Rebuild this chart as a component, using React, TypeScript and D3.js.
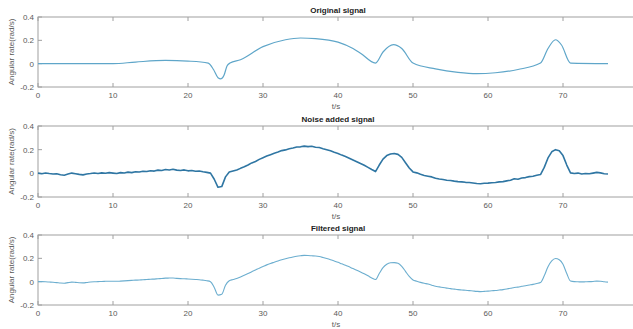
import React from 'react';
import * as d3 from 'd3';

// --- DATA ---
const xTicks = [0, 10, 20, 30, 40, 50, 60, 70, 80];
const yTicks = [-0.2, 0, 0.2, 0.4];
const panelTitles = ['Original signal', 'Noise added signal', 'Filtered signal'];

// original signal, knot points [t, rad/s]
const originalT = [0, 10, 13, 17, 20, 22.7, 23.4, 24, 24.4, 24.8, 25.2, 25.6, 27, 30, 33, 35, 37, 40, 42, 43, 45, 46, 47.4, 48.5, 50, 53, 56, 58.5, 61, 64, 67, 68, 69, 69.8, 71, 76];
const originalY = [0, 0, 0.014, 0.028, 0.022, 0.005, -0.05, -0.12, -0.13, -0.1, -0.02, 0.005, 0.034, 0.146, 0.205, 0.22, 0.215, 0.185, 0.13, 0.09, 0.005, 0.1, 0.163, 0.13, 0.005, -0.045, -0.075, -0.086, -0.078, -0.05, 0.005, 0.13, 0.205, 0.16, 0.005, 0];

// noisy and filtered signals, sampled every 0.5 s from t = 0 to t = 76
const sampleStep = 0.5;
const noisyY = [
  0.002, -0.004, 0.003, -0.002, -0.006, -0.003, -0.012, -0.016, -0.006, 0.002,
  -0.003, -0.009, -0.013, -0.006, -0.002, 0.003, -0.002, 0.004, 0.001, 0.006,
  0.002, -0.002, 0.006, 0.003, 0.01, 0.006, 0.014, 0.011, 0.018, 0.015,
  0.022, 0.019, 0.027, 0.024, 0.032, 0.028, 0.035, 0.027, 0.024, 0.029,
  0.021, 0.024, 0.017, 0.02, 0.013, 0.008, 0.002, -0.05, -0.118, -0.112,
  -0.03, 0.012, 0.02, 0.028, 0.042, 0.055, 0.07, 0.088, 0.1, 0.118,
  0.132, 0.146, 0.158, 0.17, 0.18, 0.192, 0.198, 0.208, 0.214, 0.222,
  0.224, 0.23, 0.226, 0.229, 0.22, 0.218, 0.208, 0.2, 0.19, 0.178,
  0.168, 0.154, 0.142, 0.128, 0.113, 0.098, 0.083, 0.068, 0.05, 0.032,
  0.015, 0.07, 0.12, 0.15, 0.163, 0.168, 0.16, 0.135, 0.09, 0.045,
  0.012, 0.004, -0.008, -0.018, -0.024, -0.03, -0.042, -0.048, -0.052, -0.058,
  -0.06, -0.066, -0.07, -0.072, -0.076, -0.078, -0.082, -0.086, -0.088, -0.084,
  -0.083, -0.079, -0.078, -0.072, -0.07, -0.064, -0.058, -0.046, -0.05, -0.04,
  -0.036, -0.028, -0.024, -0.016, -0.01, 0.05, 0.13, 0.182, 0.2, 0.19,
  0.15, 0.07, 0.004, -0.002, 0.002, -0.006, -0.001, -0.004, 0.002, 0.008,
  0.004, -0.003, -0.006,
];
const filteredY = [
  0.0, 0.0, -0.001, -0.003, -0.005, -0.008, -0.012, -0.013, -0.008, -0.004,
  -0.006, -0.009, -0.01, -0.007, -0.003, -0.001, 0.0, 0.002, 0.003, 0.004,
  0.003, 0.003, 0.005, 0.007, 0.009, 0.011, 0.013, 0.014, 0.017, 0.018,
  0.021, 0.022, 0.025, 0.027, 0.03, 0.031, 0.032, 0.028, 0.026, 0.025,
  0.023, 0.021, 0.019, 0.017, 0.013, 0.008, 0.0, -0.05, -0.115, -0.108,
  -0.03, 0.008, 0.018, 0.028, 0.04, 0.054, 0.069, 0.086, 0.1, 0.116,
  0.13, 0.144, 0.156, 0.167, 0.178, 0.188, 0.197, 0.205, 0.212, 0.218,
  0.222, 0.225, 0.224, 0.222, 0.22, 0.215, 0.207, 0.198, 0.188, 0.177,
  0.166, 0.153, 0.141, 0.127, 0.113, 0.098, 0.083, 0.067, 0.05, 0.032,
  0.018, 0.07, 0.12, 0.15, 0.162, 0.163, 0.158, 0.132, 0.088, 0.045,
  0.015, 0.004, -0.006, -0.014, -0.02, -0.03, -0.04, -0.045, -0.05, -0.055,
  -0.06, -0.064, -0.068, -0.071, -0.074, -0.077, -0.08, -0.083, -0.085, -0.083,
  -0.081, -0.078, -0.076, -0.072, -0.068, -0.063, -0.057, -0.05, -0.047, -0.04,
  -0.035, -0.029, -0.023, -0.016, -0.008, 0.05, 0.128, 0.178, 0.198, 0.188,
  0.15, 0.07, 0.005, 0.0, -0.001, -0.002, -0.001, 0.0, 0.002, 0.005,
  0.003, -0.001, -0.004,
];

const W = 633;
const H = 329;
const FONT = '"Liberation Sans", Arial, sans-serif';
const AXIS = '#a0a0a0';
const LABEL = '#5a5a5a';

// plot-box vertical extents for the three panels
const panels = [
  { top: 17, bottom: 87 },
  { top: 126, bottom: 197 },
  { top: 235, bottom: 305 },
];
const lineColors = ['#5fa6c9', '#2f76a3', '#6caecf'];
const lineWidths = [1.2, 1.6, 1.1];

const x = d3.scaleLinear().domain([0, 80]).range([38, 638]);

type Pt = [number, number];

const Panel: React.FC<{ idx: number; pts: Pt[]; curve: d3.CurveFactory }> = ({ idx, pts, curve }) => {
  const { top, bottom } = panels[idx];
  const y = d3.scaleLinear().domain([-0.2, 0.4]).range([bottom, top]);
  const line = d3.line<Pt>().x(d => x(d[0])).y(d => y(d[1])).curve(curve);
  const x0 = x.range()[0];
  const x1 = x.range()[1];
  const midY = (top + bottom) / 2;
  return (
    <g>
      <text x={(x0 + x1) / 2} y={top - 4} textAnchor="middle" fontSize={8} fontWeight="bold" fill="#222" fontFamily={FONT}>
        {panelTitles[idx]}
      </text>
      {/* box */}
      <rect x={x0} y={top} width={x1 - x0} height={bottom - top} fill="white" stroke={AXIS} strokeWidth={1} />
      {/* x ticks (inward, top and bottom) */}
      {xTicks.map(t => (
        <g key={'x' + t}>
          <line x1={x(t)} x2={x(t)} y1={bottom} y2={bottom - 4} stroke={AXIS} />
          <line x1={x(t)} x2={x(t)} y1={top} y2={top + 4} stroke={AXIS} />
          <text x={x(t)} y={bottom + 11} textAnchor="middle" fontSize={8} fill={LABEL} fontFamily={FONT}>
            {t}
          </text>
        </g>
      ))}
      {/* y ticks (inward, left and right) */}
      {yTicks.map(v => (
        <g key={'y' + v}>
          <line x1={x0} x2={x0 + 4} y1={y(v)} y2={y(v)} stroke={AXIS} />
          <line x1={x1} x2={x1 - 4} y1={y(v)} y2={y(v)} stroke={AXIS} />
          <text x={x0 - 4} y={y(v) + 3} textAnchor="end" fontSize={8} fill={LABEL} fontFamily={FONT}>
            {v === 0 ? '0' : v.toFixed(1)}
          </text>
        </g>
      ))}
      <text x={(x0 + x1) / 2 - 2} y={bottom + 22} textAnchor="middle" fontSize={8} fill={LABEL} fontFamily={FONT}>
        t/s
      </text>
      <text
        transform={`translate(14,${midY}) rotate(-90)`}
        textAnchor="middle"
        fontSize={8}
        fill={LABEL}
        fontFamily={FONT}
      >
        Angular rate(rad/s)
      </text>
      <path d={line(pts) || ''} fill="none" stroke={lineColors[idx]} strokeWidth={lineWidths[idx]} strokeLinejoin="round" />
    </g>
  );
};

export default function App() {
  const originalPts: Pt[] = originalT.map((t, i) => [t, originalY[i]]);
  const noisyPts: Pt[] = noisyY.map((v, i) => [i * sampleStep, v]);
  const filteredPts: Pt[] = filteredY.map((v, i) => [i * sampleStep, v]);
  return (
    <svg
      width={W}
      height={H}
      style={{ position: 'fixed', left: 0, top: 0, background: 'white', display: 'block' }}
    >
      <rect width={W} height={H} fill="white" />
      <Panel idx={0} pts={originalPts} curve={d3.curveMonotoneX} />
      <Panel idx={1} pts={noisyPts} curve={d3.curveLinear} />
      <Panel idx={2} pts={filteredPts} curve={d3.curveMonotoneX} />
    </svg>
  );
}
